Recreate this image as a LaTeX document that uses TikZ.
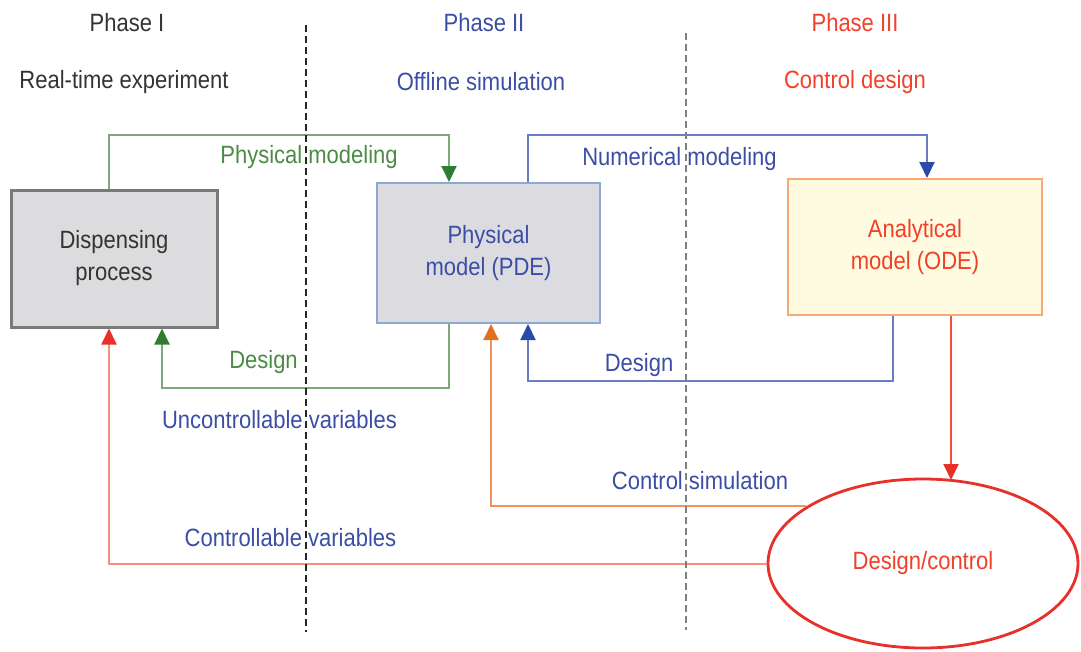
\documentclass[tikz,border=0pt]{standalone}
\usepackage{fontspec}
\setmainfont{Liberation Sans}[FakeStretch=0.88]
\usetikzlibrary{arrows.meta,shapes.geometric}

\definecolor{txtblack}{HTML}{333333}
\definecolor{txtblue}{HTML}{3B4EA6}
\definecolor{txtred}{HTML}{F0402A}
\definecolor{txtgreen}{HTML}{4B8B45}
\definecolor{greenline}{HTML}{7DA878}
\definecolor{greenhead}{HTML}{2F7D32}
\definecolor{blueline}{HTML}{6A7CC4}
\definecolor{bluehead}{HTML}{2A4AA8}
\definecolor{orangeline}{HTML}{F0935A}
\definecolor{orangehead}{HTML}{E07020}
\definecolor{redline}{HTML}{F05040}
\definecolor{redhead}{HTML}{E8302A}
\definecolor{salmonline}{HTML}{F59080}
\definecolor{grayfill}{HTML}{DCDCDE}
\definecolor{grayborder}{HTML}{7A7A7A}
\definecolor{bluefill}{HTML}{DCDCE0}
\definecolor{blueborder}{HTML}{8AAAD5}
\definecolor{yellowfill}{HTML}{FFFBE0}
\definecolor{orangeborder}{HTML}{F7A878}

\tikzset{
  boxnode/.style={rectangle, align=center, inner sep=0pt},
  tip/.style={-{Triangle[width=15pt,length=16pt,color=#1]}},
  conn/.style={line width=2pt},
  lbl/.style={inner sep=0pt, anchor=center},
  divider/.style={line width=1.6pt, dash pattern=on 7pt off 4pt}
}

\begin{document}
\begin{tikzpicture}[x=1pt, y=-1pt, font=\fontsize{25}{32}\selectfont]
\useasboundingbox (0,0) rectangle (1081,651);

% phase headings
\node[lbl, text=txtblack] (p1) at (127,23) {Phase I};
\node[lbl, text=txtblue]  (p2) at (484,23) {Phase II};
\node[lbl, text=txtred]   (p3) at (855,23) {Phase III};
\node[lbl, text=txtblack] (s1) at (124,82) {Real-time experiment};
\node[lbl, text=txtblue]  (s2) at (481,82) {Offline simulation};
\node[lbl, text=txtred]   (s3) at (855,82) {Control design};

% blocks
\node[boxnode, draw=grayborder, line width=3pt, fill=grayfill, text=txtblack,
      minimum width=206pt, minimum height=137pt] (disp) at (114,258.5) {Dispensing\\process};
\node[boxnode, draw=blueborder, line width=2pt, fill=bluefill, text=txtblue,
      minimum width=223pt, minimum height=140pt] (phys) at (488.5,253) {Physical\\model (PDE)};
\node[boxnode, draw=orangeborder, line width=2pt, fill=yellowfill, text=txtred,
      minimum width=254pt, minimum height=136pt] (ana) at (915,247) {Analytical\\model (ODE)};
\node[ellipse, draw=redhead, line width=2.8pt, fill=white, text=txtred, inner sep=0pt,
      minimum width=310pt, minimum height=169pt] (ctrl) at (923,563.5) {Design/control};

% routing columns and rows
\coordinate (cA) at (109,0);
\coordinate (cB) at (162,0);
\coordinate (cC) at (449,0);
\coordinate (cD) at (491,0);
\coordinate (cE) at (528,0);
\coordinate (cF) at (893,0);
\coordinate (cG) at (927,0);
\coordinate (cH) at (951,0);
\coordinate (rTop) at (0,135);
\coordinate (rGreen) at (0,388);
\coordinate (rBlue) at (0,381);
\coordinate (rRed) at (0,480);

% connectors
\draw[conn, greenline, tip=greenhead] (cA |- disp.north) |- (cC |- rTop) -- (cC |- phys.north);
\draw[conn, greenline, tip=greenhead] (cC |- phys.south) |- (cB |- rGreen) -- (cB |- disp.south);
\draw[conn, blueline, tip=bluehead] (cE |- phys.north) |- (cG |- rTop) -- (cG |- ana.north);
\draw[conn, blueline, tip=bluehead] (cF |- ana.south) |- (cE |- rBlue) -- (cE |- phys.south);
\draw[conn, redline, tip=redhead] (cH |- ana.south) -- (cH |- rRed);
\draw[conn, orangeline, tip=orangehead] (ctrl.154) -| (cD |- phys.south);
\draw[conn, salmonline, tip=redhead] (ctrl.west) -| (cA |- disp.south);

% connector labels
\node[lbl, text=txtgreen] (lphys) at (309,157) {Physical modeling};
\node[lbl, text=txtgreen] (ldes1) at (263.5,362) {Design};
\node[lbl, text=txtblue]  (lnum)  at (679.5,159) {Numerical modeling};
\node[lbl, text=txtblue]  (ldes2) at (639,365) {Design};
\node[lbl, text=txtblue]  (lunc)  at (279.5,420) {Uncontrollable variables};
\node[lbl, text=txtblue]  (lsim)  at (700,481) {Control simulation};
\node[lbl, text=txtblue]  (lcv)   at (290.5,538) {Controllable variables};

% phase dividers
\draw[divider, black!85] (306,25) -- (306,632);
\draw[divider, gray] (686,33) -- (686,630);
\end{tikzpicture}
\end{document}
